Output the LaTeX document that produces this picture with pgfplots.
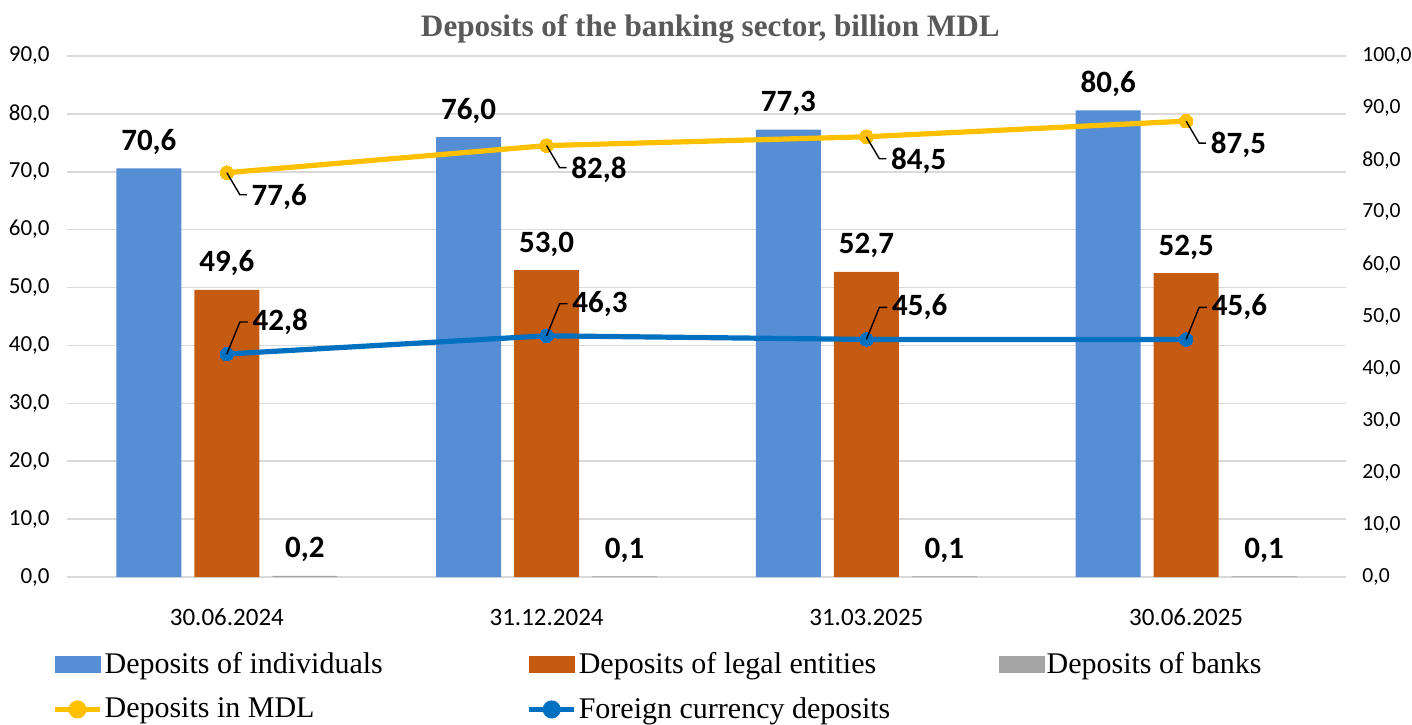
\documentclass[border=0pt]{standalone}
\usepackage{fontspec}
\setmainfont{Liberation Serif}
\newfontfamily\numfont{Carlito}
\usepackage{pgfplots}
\pgfplotsset{compat=1.18}

\definecolor{cInd}{HTML}{558ED5}
\definecolor{cLeg}{HTML}{C55A11}
\definecolor{cBank}{HTML}{A5A5A5}
\definecolor{cMDL}{HTML}{FFC000}
\definecolor{cFX}{HTML}{0070C0}
\definecolor{cTitle}{HTML}{595959}
\definecolor{cGrid}{HTML}{D9D9D9}

\pgfdeclareplotmark{ldown}{\pgfpathmoveto{\pgfpointorigin}\pgfpathlineto{\pgfpoint{6.5pt}{-11pt}}\pgfpathlineto{\pgfpoint{10pt}{-11pt}}\pgfusepathqstroke}
\pgfdeclareplotmark{lup}{\pgfpathmoveto{\pgfpointorigin}\pgfpathlineto{\pgfpoint{6.5pt}{16pt}}\pgfpathlineto{\pgfpoint{10.5pt}{16pt}}\pgfusepathqstroke}

\tikzset{
  tickfont/.style={font=\numfont\fontsize{11.5}{12}\selectfont},
  rtickfont/.style={font=\numfont\fontsize{10.8}{12}\selectfont},
  lblfont/.style={font=\numfont\bfseries\fontsize{15.5}{16}\selectfont},
}
\pgfplotsset{
  common/.style={
    width=639.5pt, height=260.5pt, scale only axis,
    xmin=-0.5, xmax=3.5, xtick={0,1,2,3},
    axis line style={draw=none}, tick style={draw=none},
    /pgf/number format/.cd, fixed, fixed zerofill, precision=1, use comma, assume math mode=true,
  },
}

\begin{document}
\begin{tikzpicture}
\useasboundingbox (-33.5pt,-73.5pt) rectangle (672.5pt,288.5pt);
\begin{axis}[common,
  ybar, bar width=32.5pt,
  ymin=0, ymax=90, ytick={0,10,...,90},
  ymajorgrids, grid style={draw=cGrid, line width=0.75pt},
  xticklabels={30.06.2024,31.12.2024,31.03.2025,30.06.2025},
  xticklabel style={font=\numfont\fontsize{12.5}{13}\selectfont, anchor=base, yshift=-20pt, inner sep=0pt},
  yticklabel style={tickfont, anchor=east, xshift=-8.5pt, inner sep=0pt},
  title={Deposits of the banking sector, billion MDL},
  title style={font=\bfseries\fontsize{15.6}{17}\selectfont, text=cTitle, anchor=base, at={(0.503,1)}, yshift=4pt, inner sep=0pt},
  nodes near coords,
  every node near coord/.append style={lblfont, anchor=base, inner sep=0pt, yshift=9pt, text=black},
]
\addplot[fill=cInd, draw=none, bar shift=-39pt] coordinates {(0,70.6) (1,76.0) (2,77.3) (3,80.6)};
\addplot[fill=cLeg, draw=none, bar shift=0pt] coordinates {(0,49.6) (1,53.0) (2,52.7) (3,52.5)};
\addplot[fill=cBank, draw=none, bar shift=39pt] coordinates {(0,0.2) (1,0.1) (2,0.1) (3,0.1)};
\end{axis}

\begin{axis}[common,
  ymin=0, ymax=100, ytick={0,10,...,100},
  axis y line*=right, hide x axis,
  yticklabel style={rtickfont, anchor=west, xshift=8pt, inner sep=0pt},
  legend columns=3,
  legend cell align=left,
  legend style={draw=none, fill=none, inner sep=0pt, at={(0,0)}, anchor=north west,
    xshift=-7.5pt, yshift=-33.5pt, font=\fontsize{15}{17}\selectfont,
    nodes={inner xsep=0pt, inner ysep=4pt},
    /tikz/every odd column/.append style={column sep=1pt}, row sep=2.5pt},
]
\addlegendimage{legend image code/.code={\fill[cInd] (0pt,-4pt) rectangle (22.5pt,4pt);}}
\addlegendentry{\makebox[211pt][l]{Deposits of individuals}}
\addlegendimage{legend image code/.code={\fill[cLeg] (0pt,-4pt) rectangle (22.5pt,4pt);}}
\addlegendentry{\makebox[210pt][l]{Deposits of legal entities}}
\addlegendimage{legend image code/.code={\fill[cBank] (0pt,-4pt) rectangle (22.5pt,4pt);}}
\addlegendentry{Deposits of banks}

\addplot[color=cMDL, line width=2.6pt, mark=*, mark size=3.4pt,
  mark options={fill=cMDL, draw=cMDL, line width=0pt},
  legend image code/.code={\draw[cMDL, line width=2.6pt] (0pt,0pt) -- (22.5pt,0pt); \fill[cMDL] (11.25pt,0pt) circle (3.2pt);}]
  coordinates {(0,77.6) (1,82.8) (2,84.5) (3,87.5)};
\addlegendentry{\makebox[211pt][l]{Deposits in MDL}}
\addplot[color=cFX, line width=2.6pt, mark=*, mark size=3.4pt,
  mark options={fill=cFX, draw=cFX, line width=0pt},
  legend image code/.code={\draw[cFX, line width=2.6pt] (0pt,0pt) -- (22.5pt,0pt); \fill[cFX] (11.25pt,0pt) circle (3.2pt);}]
  coordinates {(0,42.8) (1,46.3) (2,45.6) (3,45.6)};
\addlegendentry{Foreign currency deposits}

\addplot[forget plot, only marks, mark=ldown, mark options={draw=black, line width=0.7pt},
  nodes near coords, every node near coord/.append style={lblfont, anchor=west, xshift=12pt, yshift=-12pt, inner sep=0pt, text=black}]
  coordinates {(0,77.6) (1,82.8) (2,84.5) (3,87.5)};
\addplot[forget plot, only marks, mark=lup, mark options={draw=black, line width=0.7pt},
  nodes near coords, every node near coord/.append style={lblfont, anchor=west, xshift=12.5pt, yshift=16pt, inner sep=0pt, text=black}]
  coordinates {(0,42.8) (1,46.3) (2,45.6) (3,45.6)};
\end{axis}
\end{tikzpicture}
\end{document}
